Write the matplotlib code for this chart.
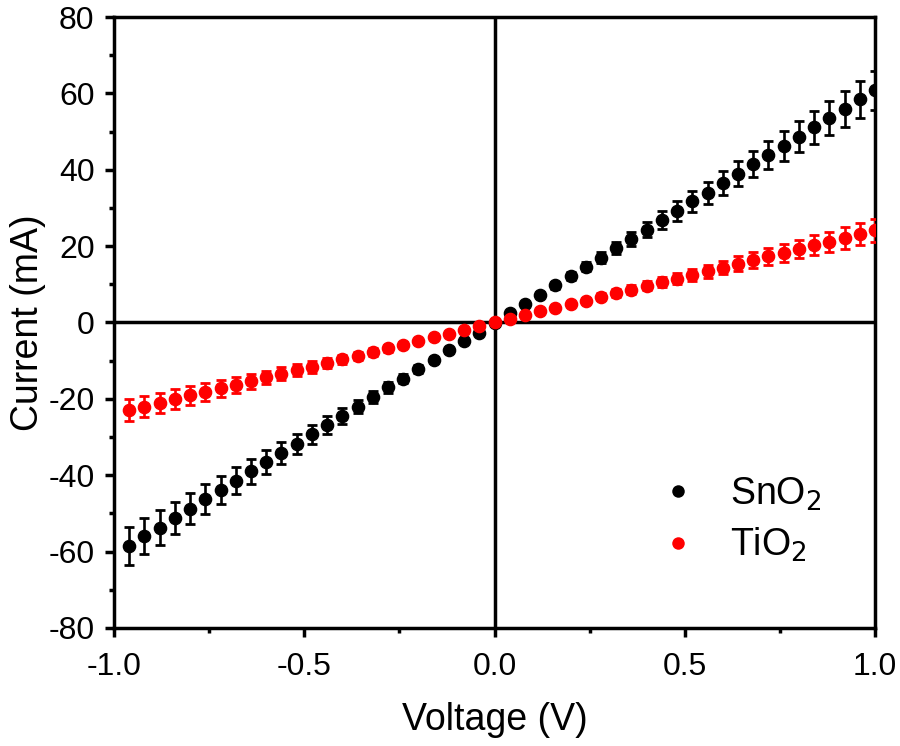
import matplotlib
matplotlib.use("Agg")
import matplotlib.pyplot as plt
from matplotlib.lines import Line2D
from matplotlib.ticker import MultipleLocator

plt.rcParams['font.family'] = ['Liberation Sans', 'DejaVu Sans']
plt.rcParams['axes.unicode_minus'] = False

# --- DATA ---
voltage = [-0.96, -0.92, -0.88, -0.84, -0.80, -0.76, -0.72, -0.68, -0.64, -0.60,
           -0.56, -0.52, -0.48, -0.44, -0.40, -0.36, -0.32, -0.28, -0.24, -0.20,
           -0.16, -0.12, -0.08, -0.04, 0.00, 0.04, 0.08, 0.12, 0.16, 0.20,
           0.24, 0.28, 0.32, 0.36, 0.40, 0.44, 0.48, 0.52, 0.56, 0.60,
           0.64, 0.68, 0.72, 0.76, 0.80, 0.84, 0.88, 0.92, 0.96, 1.00]

sno2_current = [-58.5, -56.0, -53.7, -51.2, -48.8, -46.2, -43.8, -41.4, -39.0, -36.6,
                -34.2, -31.8, -29.3, -26.9, -24.4, -22.0, -19.5, -17.0, -14.7, -12.2,
                -9.8, -7.3, -4.9, -2.7, -0.2, 2.5, 4.8, 7.3, 9.7, 12.1,
                14.6, 17.0, 19.5, 21.9, 24.3, 26.8, 29.2, 31.7, 34.0, 36.6,
                39.0, 41.5, 43.8, 46.3, 48.7, 51.1, 53.5, 55.9, 58.4, 60.8]
sno2_err = [4.9, 4.7, 4.5, 4.3, 4.1, 3.9, 3.7, 3.5, 3.3, 3.1,
            2.9, 2.7, 2.5, 2.3, 2.1, 1.8, 1.6, 1.4, 1.2, 1.0,
            0.8, 0.6, 0.4, 0.2, 0.0, 0.2, 0.4, 0.6, 0.8, 1.0,
            1.2, 1.4, 1.6, 1.8, 2.0, 2.3, 2.5, 2.7, 2.9, 3.1,
            3.3, 3.5, 3.7, 3.9, 4.1, 4.3, 4.5, 4.7, 4.9, 5.1]

tio2_current = [-22.9, -22.0, -21.1, -20.1, -19.1, -18.2, -17.2, -16.3, -15.4, -14.4,
                -13.4, -12.5, -11.6, -10.5, -9.6, -8.7, -7.7, -6.8, -5.8, -4.9,
                -3.9, -2.9, -2.0, -1.0, 0.0, 0.8, 1.9, 2.9, 3.8, 4.8,
                5.7, 6.8, 7.7, 8.6, 9.6, 10.6, 11.5, 12.4, 13.4, 14.4,
                15.4, 16.3, 17.3, 18.2, 19.2, 20.2, 21.1, 22.1, 23.1, 24.1]
tio2_err = [2.9, 2.8, 2.7, 2.6, 2.4, 2.3, 2.2, 2.1, 2.0, 1.8,
            1.7, 1.6, 1.5, 1.3, 1.2, 1.1, 1.0, 0.9, 0.7, 0.6,
            0.5, 0.4, 0.3, 0.1, 0.0, 0.1, 0.2, 0.4, 0.5, 0.6,
            0.7, 0.9, 1.0, 1.1, 1.2, 1.3, 1.5, 1.6, 1.7, 1.8,
            2.0, 2.1, 2.2, 2.3, 2.4, 2.6, 2.7, 2.8, 2.9, 3.1]

labels = ["SnO$_2$", "TiO$_2$"]
colors = ["black", "#ff0000"]

# --- FIGURE ---
fig = plt.figure(figsize=(9, 7.46), dpi=100)
ax = fig.add_axes([0.1267, 0.1582, 0.8455, 0.819])

ax.axhline(0, color="black", lw=2.5, zorder=1)
ax.axvline(0, color="black", lw=2.5, zorder=1)

for y, err, c in [(sno2_current, sno2_err, colors[0]), (tio2_current, tio2_err, colors[1])]:
    ax.errorbar(voltage, y, yerr=err, fmt="o", color=c, ms=8.8,
                elinewidth=1.9, capsize=3.6, capthick=2.0, zorder=3)

ax.set_xlim(-1, 1)
ax.set_ylim(-80, 80)
ax.xaxis.set_major_locator(MultipleLocator(0.5))
ax.xaxis.set_minor_locator(MultipleLocator(0.25))
ax.yaxis.set_major_locator(MultipleLocator(20))
ax.yaxis.set_minor_locator(MultipleLocator(10))
ax.tick_params(which="major", direction="out", length=6.5, width=2.5, labelsize=23)
ax.tick_params(which="minor", direction="out", length=3.5, width=2.5)
ax.tick_params(axis="x", which="major", pad=11)
ax.tick_params(axis="y", which="major", pad=7.5)
for s in ax.spines.values():
    s.set_linewidth(2.5)

ax.set_xticklabels([f"{t:.1f}" for t in ax.get_xticks()])
ax.set_xlabel("Voltage (V)", fontsize=27, labelpad=14)
ax.set_ylabel("Current (mA)", fontsize=27, labelpad=2)

handles = [Line2D([], [], ls="none", marker="o", color=c, ms=9, mew=0) for c in colors]
ax.legend(handles, labels, loc="upper left", bbox_to_anchor=(0.716, 0.25),
          frameon=False, fontsize=27, handlelength=1.0, handletextpad=0.9,
          labelspacing=0.36, borderpad=0, borderaxespad=0)

fig.savefig("out.png", dpi=100)
